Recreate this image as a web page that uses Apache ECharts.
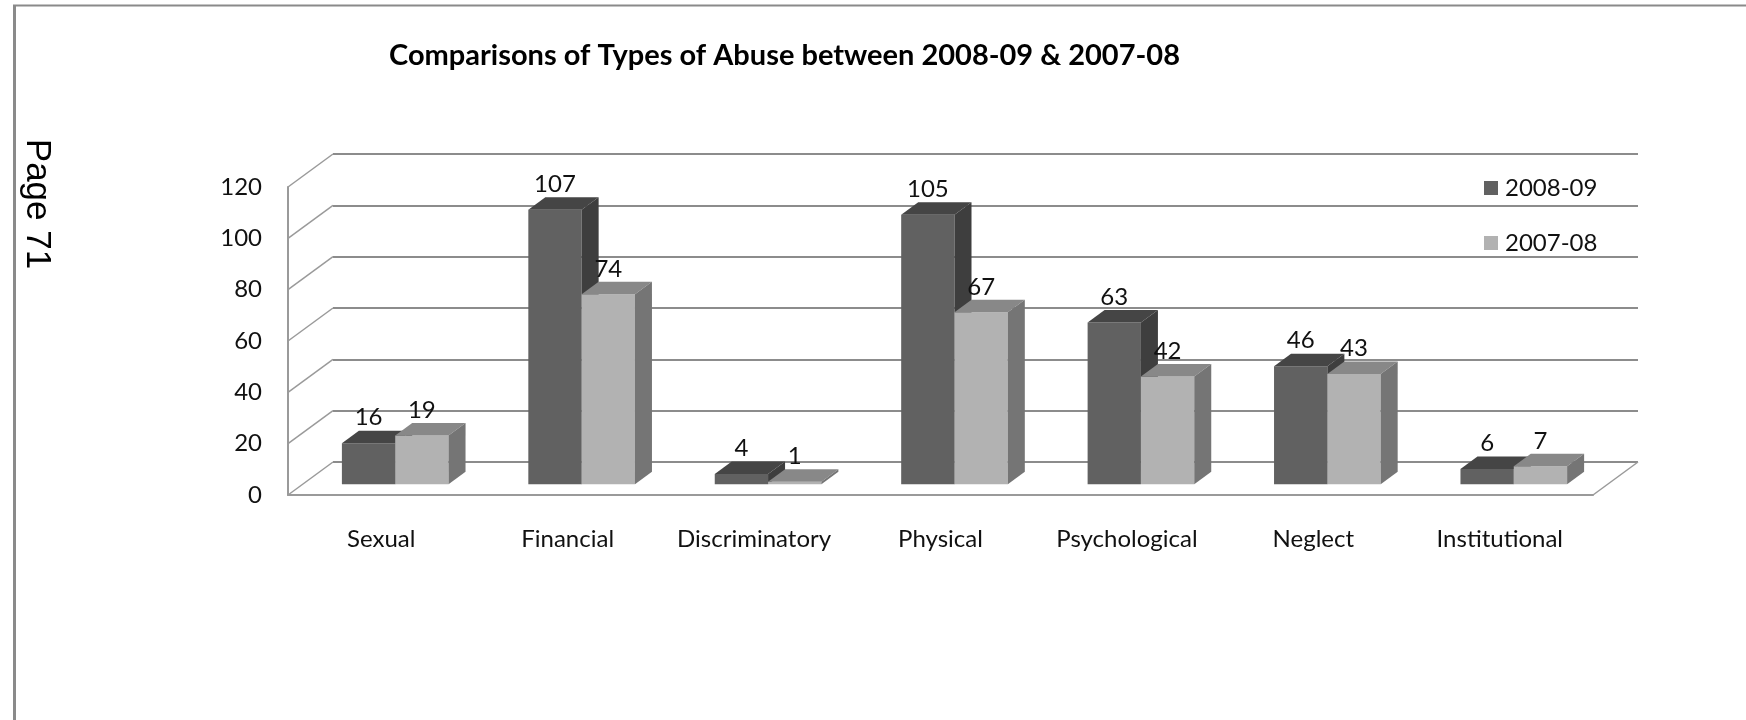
<!DOCTYPE html>
<html>
<head>
<meta charset="utf-8">
<script src="https://cdn.jsdelivr.net/npm/echarts@6/dist/echarts.min.js"></script>
<style>
  html, body { margin: 0; padding: 0; background: #ffffff; }
  #chart { width: 1746px; height: 720px; }
</style>
</head>
<body>
<div id="chart"></div>
<script>
// ---- data ----
const categories = ['Sexual', 'Financial', 'Discriminatory', 'Physical', 'Psychological', 'Neglect', 'Institutional'];
const values2008 = [16, 107, 4, 105, 63, 46, 6];
const values2007 = [19, 74, 1, 67, 42, 43, 7];
const seriesNames = ['2008-09', '2007-08'];
const yMin = 0, yMax = 120, yInterval = 20;
const yTicks = [0, 20, 40, 60, 80, 100, 120];

// ---- style constants ----
const FONT = 'Lato, "Open Sans", sans-serif';
const FS = 24;
const WALL_DX = 45, WALL_DY = 33;          // back wall offset
const BAR_SHIFT_X = 14, BAR_SHIFT_Y = 10.7; // bar plane offset
const BAR_DX = 17, BAR_DY = 12.5;           // bar depth
const BAR_FRAC = 0.286;
const PLOT = { left: 288, top: 187, width: 1305, height: 308 };
const palette = [
  { front: '#616161', top: '#454545', side: '#3e3e3e' },
  { front: '#b2b2b2', top: '#888888', side: '#757575' }
];

const chart = echarts.init(document.getElementById('chart'));

function barRender(sIdx) {
  return function (params, api) {
    const i = api.value(0), v = api.value(1);
    const base = api.coord([i, 0]);
    const topP = api.coord([i, v]);
    const band = api.size([1, 0])[0];
    const w = band * BAR_FRAC;
    const x0 = base[0] + BAR_SHIFT_X + (sIdx === 0 ? -w : 0);
    const y0 = base[1] - BAR_SHIFT_Y;
    const y1 = topP[1] - BAR_SHIFT_Y;
    const c = palette[sIdx];
    return {
      type: 'group',
      children: [
        { type: 'rect', shape: { x: x0, y: y1, width: w, height: y0 - y1 }, style: { fill: c.front } },
        { type: 'polygon', shape: { points: [[x0, y1], [x0 + w, y1], [x0 + w + BAR_DX, y1 - BAR_DY], [x0 + BAR_DX, y1 - BAR_DY]] }, style: { fill: c.top } },
        { type: 'polygon', shape: { points: [[x0 + w, y1], [x0 + w + BAR_DX, y1 - BAR_DY], [x0 + w + BAR_DX, y0 - BAR_DY], [x0 + w, y0]] }, style: { fill: c.side } },
        { type: 'text', z2: 10, style: { text: String(v), x: x0 + w / 2, y: y1 - BAR_DY - 1, align: 'center', verticalAlign: 'bottom', fontSize: FS, fontFamily: FONT, fill: '#111' } }
      ]
    };
  };
}

function wallRender(params, api) {
  const v = api.value(0);
  const cs = params.coordSys;
  const y = api.coord([0, v])[1];
  const children = [
    { type: 'line', shape: { x1: cs.x, y1: y, x2: cs.x + WALL_DX, y2: y - WALL_DY }, style: { stroke: '#9a9a9a', lineWidth: 1.5 } }
  ];
  if (v === yMin) {
    children.push({ type: 'line', shape: { x1: cs.x + cs.width, y1: y, x2: cs.x + cs.width + WALL_DX, y2: y - WALL_DY }, style: { stroke: '#9a9a9a', lineWidth: 1.5 } });
  }
  return { type: 'group', children: children };
}

const option = {
  animation: false,
  backgroundColor: '#ffffff',
  title: {
    text: 'Comparisons of Types of Abuse between 2008-09 & 2007-08',
    left: 384, top: 36,
    textStyle: { fontFamily: FONT, fontWeight: 'bold', fontSize: 29, color: '#000' }
  },
  legend: {
    orient: 'vertical',
    left: 1479, top: 171,
    itemWidth: 14, itemHeight: 14, itemGap: 31,
    icon: 'rect',
    data: seriesNames,
    textStyle: { fontFamily: FONT, fontSize: FS, color: '#111', padding: [0, 0, 0, 2] }
  },
  grid: [
    { left: PLOT.left, top: PLOT.top, width: PLOT.width, height: PLOT.height },
    { left: PLOT.left + WALL_DX, top: PLOT.top - WALL_DY, width: PLOT.width, height: PLOT.height }
  ],
  xAxis: [
    {
      type: 'category', gridIndex: 0, data: categories,
      axisLine: { show: true, lineStyle: { color: '#9a9a9a', width: 2 } },
      axisTick: { show: false },
      axisLabel: { margin: 32, fontFamily: FONT, fontSize: FS, color: '#111', interval: 0 },
      splitLine: { show: false }
    },
    {
      type: 'category', gridIndex: 1, data: categories, show: false
    }
  ],
  yAxis: [
    {
      type: 'value', gridIndex: 0, min: yMin, max: yMax, interval: yInterval,
      axisLine: { show: true, lineStyle: { color: '#9a9a9a', width: 2 } },
      axisTick: { show: false },
      axisLabel: { margin: 26, fontFamily: FONT, fontSize: FS, color: '#111' },
      splitLine: { show: false }
    },
    {
      type: 'value', gridIndex: 1, min: yMin, max: yMax, interval: yInterval,
      axisLine: { show: false }, axisTick: { show: false }, axisLabel: { show: false },
      splitLine: { show: true, lineStyle: { color: '#8c8c8c', width: 2 } }
    }
  ],
  graphic: [
    { type: 'line', shape: { x1: 13, y1: 5.5, x2: 1746, y2: 5.5 }, style: { stroke: '#8a8a8a', lineWidth: 2 } },
    { type: 'line', shape: { x1: 14.5, y1: 5, x2: 14.5, y2: 720 }, style: { stroke: '#8a8a8a', lineWidth: 3 } },
    { type: 'text', x: 37, y: 204, rotation: -Math.PI / 2,
      style: { text: 'Page 71', x: 0, y: 0, align: 'center', verticalAlign: 'middle', fontFamily: '"Liberation Sans", Arial, sans-serif', fontSize: 35, fill: '#000' } }
  ],
  series: [
    {
      type: 'custom', name: 'walls', xAxisIndex: 0, yAxisIndex: 0, silent: true,
      data: yTicks.map(v => [v]),
      encode: { y: 0 },
      renderItem: wallRender, z: 1
    },
    {
      type: 'custom', name: seriesNames[0], xAxisIndex: 0, yAxisIndex: 0,
      itemStyle: { color: palette[0].front },
      data: values2008.map((v, i) => [i, v]),
      encode: { x: 0, y: 1 },
      renderItem: barRender(0), z: 3
    },
    {
      type: 'custom', name: seriesNames[1], xAxisIndex: 0, yAxisIndex: 0,
      itemStyle: { color: palette[1].front },
      data: values2007.map((v, i) => [i, v]),
      encode: { x: 0, y: 1 },
      renderItem: barRender(1), z: 4
    }
  ]
};
chart.setOption(option);
</script>
</body>
</html>
